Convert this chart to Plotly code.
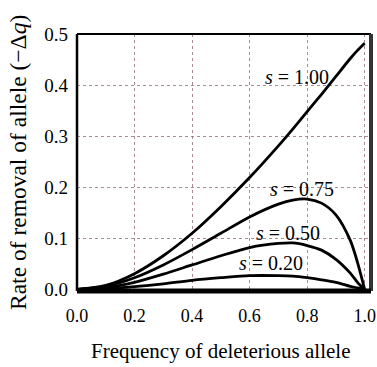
import plotly.graph_objects as go

# Frequency of deleterious allele (q)
q = [0.0, 0.1, 0.2, 0.3, 0.4, 0.5, 0.6, 0.7, 0.75, 0.8, 0.85, 0.9, 0.95, 0.975, 1.0]

# Rate of removal of allele (-Δq)
s_100 = [0.0, 0.008, 0.031, 0.066, 0.110, 0.162, 0.219, 0.281, 0.314, 0.348, 0.382, 0.417, 0.452, 0.468, 0.482]
s_075 = [0.0, 0.006, 0.023, 0.048, 0.078, 0.110, 0.142, 0.167, 0.175, 0.177, 0.169, 0.146, 0.096, 0.053, 0.0]
s_050 = [0.0, 0.0035, 0.014, 0.030, 0.048, 0.066, 0.082, 0.090, 0.091, 0.086, 0.077, 0.059, 0.032, 0.014, 0.0]
s_020 = [0.0, 0.0015, 0.0055, 0.011, 0.018, 0.023, 0.027, 0.027, 0.026, 0.023, 0.019, 0.014, 0.006, 0.003, 0.0]

series = [("s = 1.00", s_100), ("s = 0.75", s_075), ("s = 0.50", s_050), ("s = 0.20", s_020)]
label_text = ["<i>s</i> = 1.00", "<i>s</i> = 0.75", "<i>s</i> = 0.50", "<i>s</i> = 0.20"]

x_ticks = [0.0, 0.2, 0.4, 0.6, 0.8, 1.0]
y_ticks = [0.0, 0.1, 0.2, 0.3, 0.4, 0.5]

FONT = "Liberation Serif"
W, H = 377, 367
ML, MR, MT, MB = 77, 6, 34, 76

fig = go.Figure()
for name, vals in series:
    fig.add_trace(go.Scatter(x=q, y=vals, mode="lines", name=name,
                             line=dict(color="black", width=2.8, shape="spline", smoothing=0.8),
                             showlegend=False, hoverinfo="skip"))

grid_col = "rgba(150,110,120,0.8)"
fig.update_layout(
    width=W, height=H,
    margin=dict(l=ML, r=MR, t=MT, b=MB, autoexpand=False),
    paper_bgcolor="white", plot_bgcolor="white",
    font=dict(family=FONT, color="black", size=18),
    xaxis=dict(range=[0, 1.022], tickvals=x_ticks, ticktext=[f"{v:.1f}" for v in x_ticks],
               showgrid=True, gridcolor=grid_col, griddash="dot", gridwidth=1,
               zeroline=False, showline=False, ticks="", ticklabelstandoff=12,
               automargin=False, ticklabeloverflow="allow",
               tickfont=dict(family=FONT, size=18, color="black")),
    yaxis=dict(range=[-0.003, 0.5], tickvals=y_ticks, ticktext=[f"{v:.1f}" for v in y_ticks],
               showgrid=True, gridcolor=grid_col, griddash="dot", gridwidth=1,
               zeroline=False, showline=False, ticks="", ticklabelstandoff=8,
               automargin=False, ticklabeloverflow="allow",
               tickfont=dict(family=FONT, size=19, color="black")),
)

# frame
fig.add_shape(type="line", xref="paper", yref="paper", x0=0, x1=0, y0=0, y1=1, line=dict(color="black", width=2.5))
fig.add_shape(type="line", xref="paper", yref="paper", x0=0, x1=1, y0=1, y1=1, line=dict(color="black", width=2))
fig.add_shape(type="line", xref="paper", yref="paper", x0=1, x1=1, y0=0, y1=1, line=dict(color="#333", width=4))
fig.add_shape(type="line", xref="paper", yref="paper", x0=0, x1=1, y0=0, y1=0, line=dict(color="black", width=5))

pw, ph = W - ML - MR, H - MT - MB
def px_to_paper(px, py):
    return (px - ML) / pw, (H - MB - py) / ph

# curve labels (pixel positions)
label_pos = [(297, 77), (302, 189), (288, 233), (271, 263)]
for txt, (px, py) in zip(label_text, label_pos):
    x, y = px_to_paper(px, py)
    fig.add_annotation(x=x, y=y, text=txt, showarrow=False, xref="paper", yref="paper",
                       xanchor="center", yanchor="middle",
                       font=dict(family=FONT, size=20, color="black"))

ax, ay = px_to_paper(220, 351)
fig.add_annotation(x=ax, y=ay, xref="paper", yref="paper", text="Frequency of deleterious allele",
                   xanchor="center", yanchor="middle",
                   showarrow=False, font=dict(family=FONT, size=21, color="black"))
bx, by = px_to_paper(18, 163)
fig.add_annotation(x=bx, y=by, xref="paper", yref="paper",
                   xanchor="center", yanchor="middle",
                   text="Rate of removal of allele (−Δ<i>q</i>)", textangle=-90, showarrow=False,
                   font=dict(family=FONT, size=23.5, color="black"))

fig.write_html("out.html", config={"displayModeBar": False},
               post_script="document.body.style.margin='0';document.body.style.overflow='hidden';")
